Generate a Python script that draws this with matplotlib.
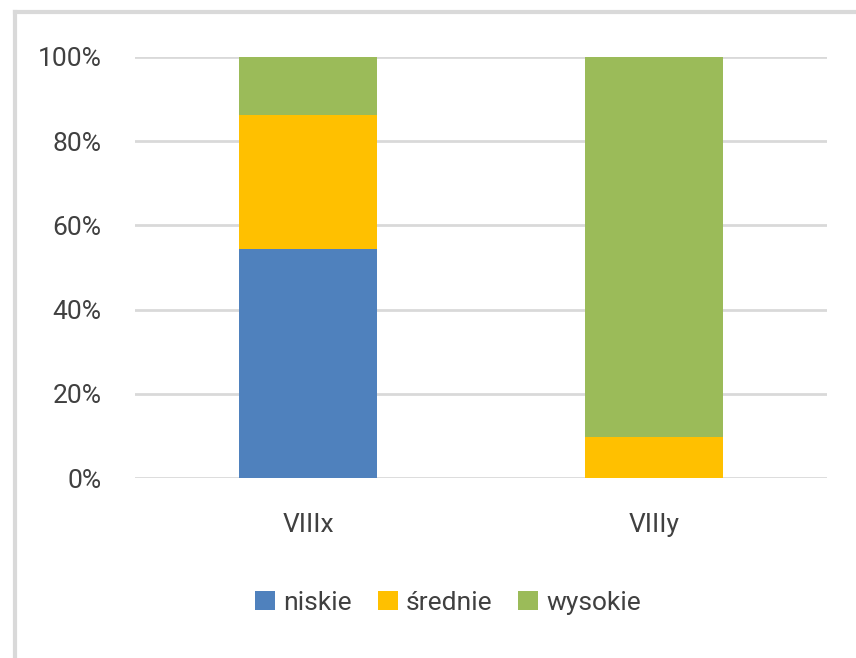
import matplotlib
matplotlib.use("Agg")
import matplotlib.pyplot as plt
from matplotlib.lines import Line2D
from matplotlib.ticker import FuncFormatter

categories = ["VIIIx", "VIIIy"]
series_names = ["niskie", "średnie", "wysokie"]
niskie = [54.4, 0.0]
srednie = [31.8, 9.7]
wysokie = [13.8, 90.3]
colors = ["#4f81bd", "#ffc000", "#9bbb59"]
yticks = [0, 20, 40, 60, 80, 100]

plt.rcParams['font.family'] = ['Roboto', 'DejaVu Sans']
text_color = "#404040"

fig = plt.figure(figsize=(8.56, 6.58), dpi=100)
ax = fig.add_axes([135/856, 1-478.3/658, (827-135)/856, (478.3-56.7)/658])

x = list(range(len(categories)))
bottom = [0.0]*len(categories)
for name, vals, c in zip(series_names, [niskie, srednie, wysokie], colors):
    ax.bar(x, vals, width=0.4, bottom=bottom, color=c, label=name, zorder=3)
    bottom = [b+v for b, v in zip(bottom, vals)]

ax.set_xlim(-0.5, 1.5)
ax.set_ylim(0, 100)
ax.set_yticks(yticks)
ax.yaxis.set_major_formatter(FuncFormatter(lambda v, p: f"{int(v)}%"))
ax.set_xticks(x)
ax.set_xticklabels(categories)
ax.grid(axis='y', color="#d9d9d9", linewidth=2, zorder=0)
ax.set_axisbelow(True)
for s in ax.spines.values():
    s.set_visible(False)
ax.tick_params(length=0, labelsize=19, colors=text_color)
ax.tick_params(axis='y', pad=24)
ax.tick_params(axis='x', pad=25)

leg = fig.legend(loc='center', bbox_to_anchor=(448/856, 1-603/658), ncol=3, frameon=False,
                 fontsize=19, handlelength=0.75, handleheight=0.75, handletextpad=0.3,
                 columnspacing=1.0)
for t in leg.get_texts():
    t.set_color(text_color)

fig.add_artist(Line2D([15/856, 15/856], [0, 1-12/658], color="#d9d9d9", linewidth=3, transform=fig.transFigure))
fig.add_artist(Line2D([15/856, 1], [1-12/658, 1-12/658], color="#d9d9d9", linewidth=3, transform=fig.transFigure))

fig.savefig("out.png", dpi=100)
